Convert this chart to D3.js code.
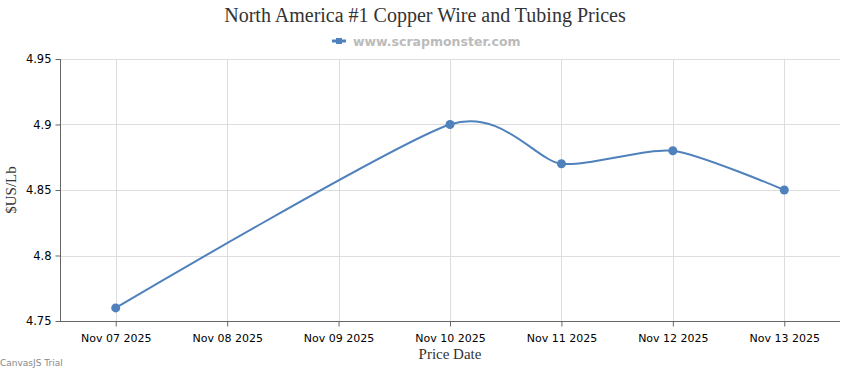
<!DOCTYPE html>
<html>
<head>
<meta charset="utf-8">
<script src="https://cdn.jsdelivr.net/npm/d3@7"></script>
<style>
  body { margin: 0; background: #fff; }
</style>
</head>
<body>
<div id="chart"></div>
<script>
var width = 850;
var height = 370;

// chart values
var dates = ['2025-11-07', '2025-11-10', '2025-11-11', '2025-11-12', '2025-11-13'];
var prices = [4.76, 4.90, 4.87, 4.88, 4.85];
var yTicks = [4.75, 4.8, 4.85, 4.9, 4.95];
var xTickDates = ['2025-11-07', '2025-11-08', '2025-11-09', '2025-11-10', '2025-11-11', '2025-11-12', '2025-11-13'];

var parse = d3.timeParse('%Y-%m-%d');
var data = dates.map((d, i) => ({ date: parse(d), price: prices[i] }));

var plotLeft = 60, plotRight = 840, plotTop = 59, plotBottom = 321;
var lineColor = '#4F81BC';

var svg = d3.select('#chart')
    .append('svg')
    .attr('width', width)
    .attr('height', height);

var x = d3.scaleTime()
    .domain([d3.timeHour.offset(parse('2025-11-07'), -12), d3.timeHour.offset(parse('2025-11-13'), 12)])
    .range([plotLeft, plotRight]);

var y = d3.scaleLinear()
    .domain([4.75, 4.95])
    .range([plotBottom, plotTop]);

// grid
svg.append('g')
    .selectAll('line')
    .data(yTicks)
    .enter()
    .append('line')
    .attr('x1', plotLeft).attr('x2', plotRight)
    .attr('y1', (d) => Math.round(y(d)) + 0.5)
    .attr('y2', (d) => Math.round(y(d)) + 0.5)
    .attr('stroke', '#dddddd');

svg.append('g')
    .selectAll('line')
    .data(xTickDates.map(parse))
    .enter()
    .append('line')
    .attr('y1', plotTop).attr('y2', plotBottom)
    .attr('x1', (d) => Math.round(x(d)) + 0.5)
    .attr('x2', (d) => Math.round(x(d)) + 0.5)
    .attr('stroke', '#dddddd');

// axes
var yAxis = d3.axisLeft(y).tickValues(yTicks).tickSize(5).tickPadding(4)
    .tickFormat((d) => d3.format('')(+d.toFixed(2)));
var yg = svg.append('g')
    .attr('transform', `translate(${plotLeft + 0.5},0)`)
    .call(yAxis);
yg.select('.domain').attr('stroke', '#666').attr('d', `M0,${plotTop}V${plotBottom}`);
yg.selectAll('.tick line').attr('stroke', '#666');
yg.selectAll('text')
    .style('font-family', '"DejaVu Sans", sans-serif')
    .style('font-size', '11.5px')
    .attr('fill', '#000');

var xAxis = d3.axisBottom(x).tickValues(xTickDates.map(parse)).tickSize(5).tickPadding(8)
    .tickFormat(d3.timeFormat('%b %d %Y'));
var xg = svg.append('g')
    .attr('transform', `translate(0,${plotBottom + 0.5})`)
    .call(xAxis);
xg.select('.domain').attr('stroke', '#666').attr('d', `M${plotLeft},0H${plotRight}`);
xg.selectAll('.tick line').attr('stroke', '#666');
xg.selectAll('text')
    .style('font-family', '"DejaVu Sans", sans-serif')
    .style('font-size', '11px')
    .attr('fill', '#000');

// line
var line = d3.line()
    .x((d) => x(d.date))
    .y((d) => y(d.price))
    .curve(d3.curveCardinal.tension(0.3));

svg.append('path')
    .datum(data)
    .attr('d', line)
    .attr('fill', 'none')
    .attr('stroke', lineColor)
    .attr('stroke-width', 2);

svg.append('g')
    .selectAll('circle')
    .data(data)
    .enter()
    .append('circle')
    .attr('cx', (d) => x(d.date))
    .attr('cy', (d) => y(d.price))
    .attr('r', 4.5)
    .attr('fill', lineColor);

// titles
svg.append('text')
    .attr('x', 425).attr('y', 22)
    .attr('text-anchor', 'middle')
    .style('font-family', '"Liberation Serif", "Times New Roman", serif')
    .style('font-size', '20px')
    .attr('fill', '#333')
    .text('North America #1 Copper Wire and Tubing Prices');

var legend = svg.append('g').attr('transform', 'translate(332,41)');
legend.append('line')
    .attr('x1', 0).attr('x2', 14).attr('y1', 0).attr('y2', 0)
    .attr('stroke', lineColor).attr('stroke-width', 3);
legend.append('rect')
    .attr('x', 4).attr('y', -3).attr('width', 6).attr('height', 6)
    .attr('fill', lineColor);
legend.append('text')
    .attr('x', 21).attr('y', 4.5)
    .style('font-family', 'Verdana, "DejaVu Sans", sans-serif')
    .style('font-size', '12.5px')
    .style('font-weight', 'bold')
    .attr('fill', '#bbbbbb')
    .text('www.scrapmonster.com');

svg.append('text')
    .attr('transform', `translate(16,${(plotTop + plotBottom) / 2}) rotate(-90)`)
    .attr('text-anchor', 'middle')
    .style('font-family', '"Liberation Serif", "Times New Roman", serif')
    .style('font-size', '15px')
    .attr('fill', '#333')
    .text('$US/Lb');

svg.append('text')
    .attr('x', (plotLeft + plotRight) / 2).attr('y', 359)
    .attr('text-anchor', 'middle')
    .style('font-family', '"Liberation Serif", "Times New Roman", serif')
    .style('font-size', '15px')
    .attr('fill', '#333')
    .text('Price Date');

svg.append('text')
    .attr('x', 0).attr('y', 366)
    .style('font-family', 'Verdana, "DejaVu Sans", sans-serif')
    .style('font-size', '9px')
    .attr('fill', '#888')
    .text('CanvasJS Trial');
</script>
</body>
</html>
